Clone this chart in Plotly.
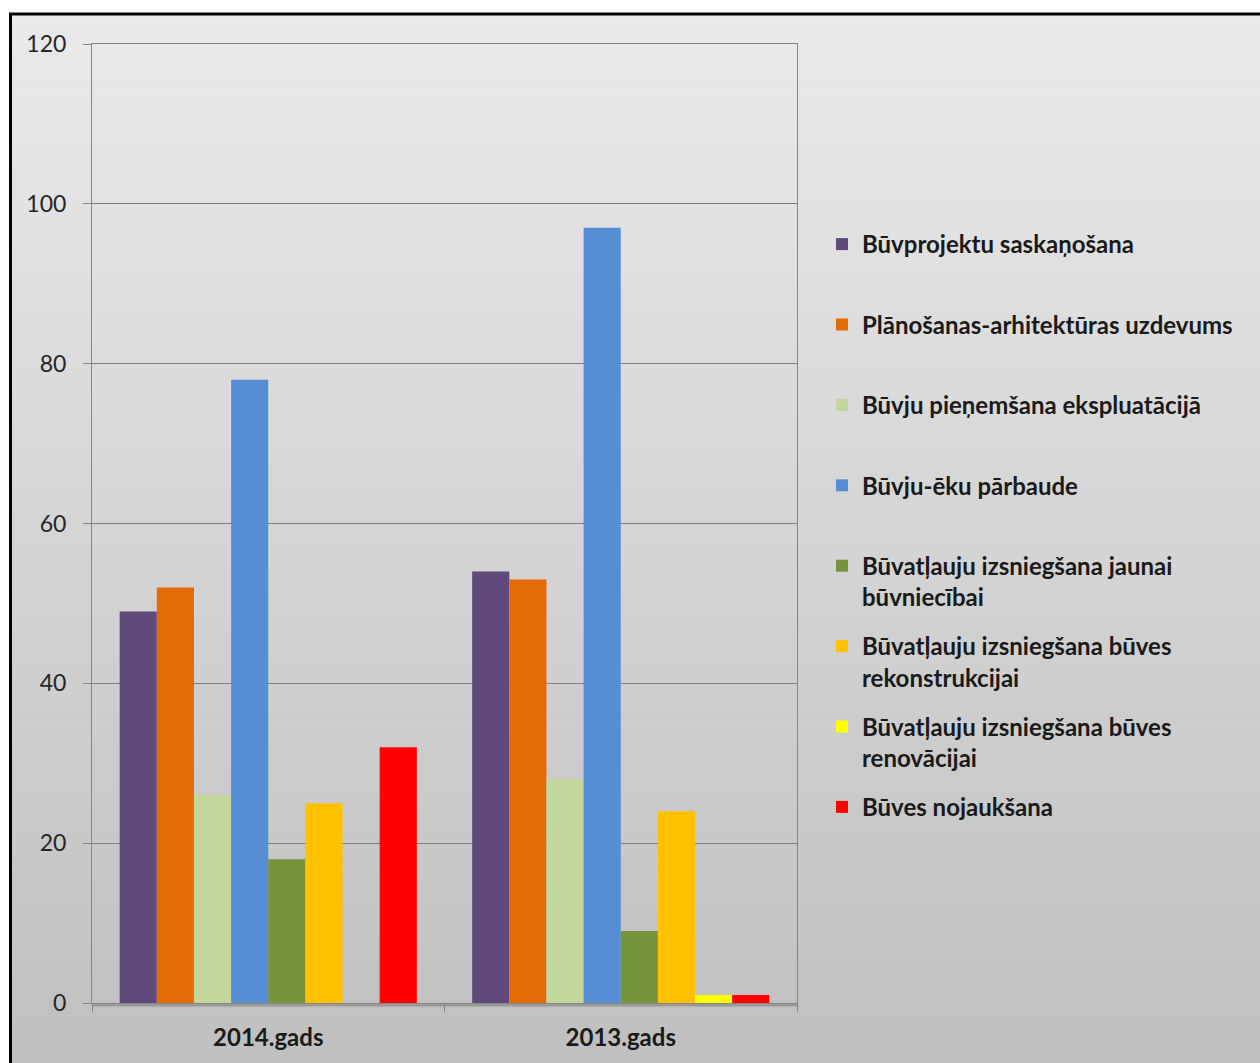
import plotly.graph_objects as go

categories = ["2014.gads", "2013.gads"]
series_names = [
    "Būvprojektu saskaņošana",
    "Plānošanas-arhitektūras uzdevums",
    "Būvju pieņemšana ekspluatācijā",
    "Būvju-ēku pārbaude",
    "Būvatļauju izsniegšana jaunai<br>būvniecībai",
    "Būvatļauju izsniegšana būves<br>rekonstrukcijai",
    "Būvatļauju izsniegšana būves<br>renovācijai",
    "Būves nojaukšana",
]
values_2014 = [49, 52, 26, 78, 18, 25, 0, 32]
values_2013 = [54, 53, 28, 97, 9, 24, 1, 1]
colors = ["#604a7b", "#e36c09", "#c3d69b", "#558ed5", "#77933c", "#ffc000", "#ffff00", "#ff0000"]
y_ticks = [0, 20, 40, 60, 80, 100, 120]

W, H = 1260, 1063
ML, MR, MT, MB = 92, 1260 - 797, 44, 1063 - 1003
PW, PH = W - ML - MR, H - MT - MB

def px2x(px):
    return (px - ML) / PW

def py2y(py):
    return (H - MB - py) / PH

fig = go.Figure()
for i, name in enumerate(series_names):
    label = name if "<br>" in name else name + "<br> "
    fig.add_trace(go.Bar(
        x=categories,
        y=[values_2014[i], values_2013[i]],
        name=label,
        marker=dict(color=colors[i], line=dict(width=0)),
        legendgroup=f"g{i}",
    ))

# gradient background
shapes = []
top_c = (0xea, 0xea, 0xea)
bot_c = (0xbf, 0xbf, 0xbf)
y0px, y1px = 13, H + 5
n = 80
for k in range(n):
    a = y0px + (y1px - y0px) * k / n
    b = y0px + (y1px - y0px) * (k + 1) / n
    t = (k + 0.5) / n
    c = tuple(round(top_c[j] + (bot_c[j] - top_c[j]) * t) for j in range(3))
    shapes.append(dict(type="rect", xref="paper", yref="paper", layer="below",
                       x0=px2x(10), x1=px2x(W + 10), y0=py2y(a), y1=py2y(b + 0.6),
                       fillcolor="rgb(%d,%d,%d)" % c, line=dict(width=0)))
# frame
shapes.append(dict(type="rect", xref="paper", yref="paper", layer="above",
                   x0=px2x(10.5), x1=px2x(W + 20), y0=py2y(14), y1=py2y(H + 20),
                   line=dict(color="black", width=3), fillcolor="rgba(0,0,0,0)"))
# x axis shadow
shapes.append(dict(type="line", xref="paper", yref="paper", layer="below",
                   x0=0, x1=1, y0=py2y(1005), y1=py2y(1005),
                   line=dict(color="#9a9a9a", width=3)))

fig.update_layout(
    width=W, height=H,
    margin=dict(l=ML, r=MR, t=MT, b=MB, pad=0),
    paper_bgcolor="white",
    plot_bgcolor="rgba(0,0,0,0)",
    barmode="group",
    bargap=0.157,
    bargroupgap=0,
    shapes=shapes,
    font=dict(family="Lato", color="#1a1a1a"),
    legend=dict(
        xref="container", yref="container",
        x=822 / W, y=1 - 222 / H, xanchor="left", yanchor="top",
        bgcolor="rgba(0,0,0,0)",
        font=dict(family="Lato", size=24, color="#1a1a1a", weight="bold"),
        valign="top",
        tracegroupgap=15,
        maxheight=800,
        itemclick=False,
    ),
    xaxis=dict(
        showgrid=False,
        showline=True, linecolor="#868686", linewidth=1, mirror=True,
        ticks="outside", tickson="boundaries", ticklen=8, tickcolor="#868686",
        tickfont=dict(family="Lato", size=24, color="#1a1a1a", weight="bold"),
        ticklabelstandoff=13,
    ),
    yaxis=dict(
        range=[0, 120],
        tickvals=y_ticks,
        showgrid=True, gridcolor="#7f7f7f", gridwidth=1,
        showline=True, linecolor="#868686", linewidth=1, mirror=True,
        ticks="outside", ticklen=8, tickcolor="#868686",
        tickfont=dict(family="Lato", size=23, color="#262626"),
        ticklabelstandoff=12,
        zeroline=False,
    ),
)

fig.write_html("out.html", config={"displayModeBar": False},
               post_script="document.body.style.margin='0';")
